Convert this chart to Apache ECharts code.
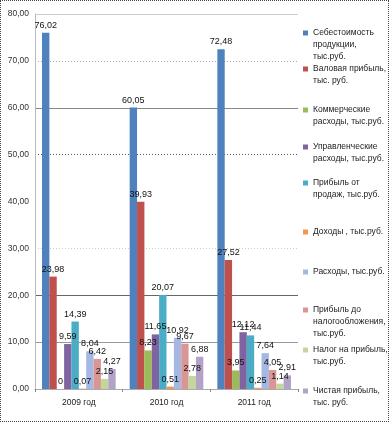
<!DOCTYPE html>
<html><head><meta charset="utf-8">
<script src="https://cdn.jsdelivr.net/npm/echarts@6/dist/echarts.min.js"></script>
<style>
html,body{margin:0;padding:0;background:#fff;}
#c{width:389px;height:422px;box-sizing:border-box;border:1px dotted #444;}
</style></head>
<body><div id="c"></div>
<script>
const categories = ['2009 год', '2010 год', '2011 год'];
const seriesNames = [
  'Себестоимость\nпродукции,\nтыс.руб.',
  'Валовая прибыль,\nтыс. руб.',
  'Коммерческие\nрасходы, тыс.руб.',
  'Управленческие\nрасходы, тыс.руб.',
  'Прибыль от\nпродаж, тыс.руб.',
  'Доходы , тыс.руб.',
  'Расходы, тыс.руб.',
  'Прибыль до\nналогообложения,\nтыс.руб.',
  'Налог на прибыль,\nтыс.руб.',
  'Чистая прибыль,\nтыс. руб.'
];
const cost       = [76.02, 60.05, 72.48];
const grossProf  = [23.98, 39.93, 27.52];
const commExp    = [0, 8.23, 3.95];
const adminExp   = [9.59, 11.65, 12.12];
const salesProf  = [14.39, 20.07, 11.44];
const income     = [0.07, 0.51, 0.25];
const expenses   = [8.04, 10.92, 7.64];
const preTaxProf = [6.42, 9.67, 4.05];
const incomeTax  = [2.15, 2.78, 1.14];
const netProf    = [4.27, 6.88, 2.91];
const yTicks = ['0,00','10,00','20,00','30,00','40,00','50,00','60,00','70,00','80,00'];

const values = [cost, grossProf, commExp, adminExp, salesProf, income, expenses, preTaxProf, incomeTax, netProf];
const colors = ['#4F81BD','#C0504D','#9BBB59','#8064A2','#4BACC6','#F79646','#A4B8E3','#D99694','#C3D69B','#B3A2C7'];

// layout of legend items (icon centre y)
const legendCenters = [32, 68, 109, 146, 182, 231, 271, 309, 349, 390];
const LH = 12;
const legends = seriesNames.map((n, i) => {
  const lines = n.split('\n').length;
  return {
    data: [n], orient: 'vertical', left: 302, top: legendCenters[i] - (2*lines-1)*LH/2,
    padding: 0, itemWidth: 5, itemHeight: 5, icon: 'rect',
    formatter: name => '\n'.repeat(name.split('\n').length - 1) + name,
    textStyle: {fontSize: 8.5, lineHeight: LH, color: '#222', fontFamily: 'Liberation Sans'}
  };
});

const chart = echarts.init(document.getElementById('c'), null, {renderer: 'canvas'});
chart.setOption({
  animation: false,
  color: colors,
  textStyle: {fontFamily: 'Liberation Sans'},
  legend: legends,
  grid: {left: 34, right: 90, top: 13, bottom: 32},
  xAxis: {
    type: 'category', data: categories,
    axisLine: {lineStyle: {color: '#aaa'}},
    axisTick: {show: true, length: 3, lineStyle: {color: '#888'}},
    axisLabel: {fontSize: 8.5, color: '#222', margin: 9}
  },
  yAxis: [{
    type: 'value', min: 0, max: 80, interval: 10,
    axisLine: {show: true, lineStyle: {color: '#bbb'}},
    axisTick: {show: false},
    axisLabel: {fontSize: 8.5, color: '#333', margin: 6, formatter: (v) => yTicks[Math.round(v/10)]},
    splitLine: {show: true, lineStyle: {type: 'solid', width: 1,
      color: ['rgba(0,0,0,0)', '#999', '#666', 'rgba(0,0,0,0)', 'rgba(0,0,0,0)', 'rgba(0,0,0,0)', '#888', 'rgba(0,0,0,0)', '#ccc']}}
  }, {
    type: 'value', min: 0, max: 80, interval: 10, position: 'left',
    axisLine: {show: false}, axisTick: {show: false}, axisLabel: {show: false},
    splitLine: {show: true, lineStyle: {type: [1, 2], width: 1,
      color: ['rgba(0,0,0,0)', 'rgba(0,0,0,0)', 'rgba(0,0,0,0)', '#ccc', 'rgba(0,0,0,0)', '#555', 'rgba(0,0,0,0)', '#aaa', 'rgba(0,0,0,0)']}}
  }],
  series: seriesNames.map((n, i) => ({
    name: n, type: 'bar', data: values[i], yAxisIndex: 0,
    barGap: '0%', barCategoryGap: '16%',
    label: {show: true, position: 'top', distance: 3, fontSize: 9, color: '#111',
      formatter: p => p.value === 0 ? '0' : p.value.toFixed(2).replace('.', ',')}
  }))
});
</script></body></html>
